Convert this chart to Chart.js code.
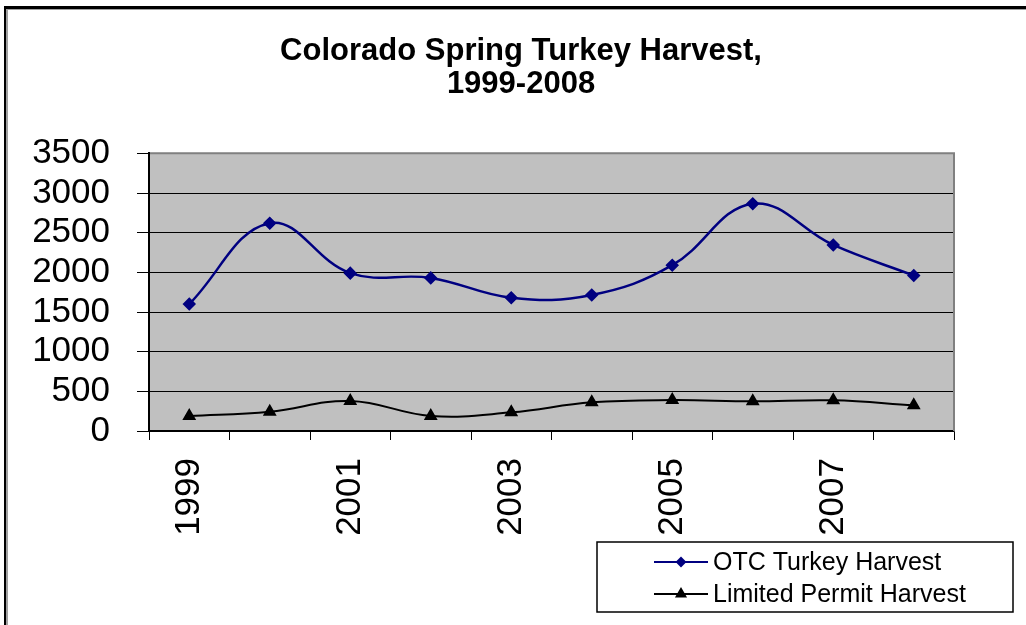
<!DOCTYPE html>
<html>
<head>
<meta charset="utf-8">
<script src="https://cdn.jsdelivr.net/npm/chart.js@4.4.1/dist/chart.umd.min.js"></script>
<style>
  html, body { margin: 0; padding: 0; background: #fff; }
  #wrap { position: relative; width: 1026px; height: 625px; overflow: hidden; }
  #c { position: absolute; left: 0; top: 0; }
  #frame { position: absolute; left: 4px; top: 6px; width: 1030px; height: 630px;
           border-top: 3px solid #000; border-left: 2px solid #000;
           box-shadow: inset 2px 1px 0 #a0a0a0; pointer-events: none; box-sizing: border-box; }
</style>
</head>
<body>
<div id="wrap">
  <canvas id="c" width="1026" height="625"></canvas>
  <div id="frame"></div>
</div>
<script>
const titleLines = ['Colorado Spring Turkey Harvest,', '1999-2008'];
const years = ['1999','2000','2001','2002','2003','2004','2005','2006','2007','2008'];
const otcHarvest = [1600, 2620, 1990, 1930, 1680, 1715, 2090, 2865, 2345, 1960];
const limitedHarvest = [190, 243, 378, 190, 235, 361, 390, 374, 387, 324];
const seriesNames = ['OTC Turkey Harvest', 'Limited Permit Harvest'];
const yTicks = [0, 500, 1000, 1500, 2000, 2500, 3000, 3500];

const FONT = "'Liberation Sans', Arial, sans-serif";

const plotBg = {
  id: 'plotBg',
  beforeDraw(chart) {
    const {ctx, chartArea: a} = chart;
    ctx.save();
    ctx.fillStyle = '#c0c0c0';
    ctx.fillRect(a.left, a.top, a.right - a.left, a.bottom - a.top);
    ctx.restore();
  },
  beforeDatasetsDraw(chart) {
    const {ctx, chartArea: a} = chart;
    ctx.save();
    ctx.strokeStyle = '#808080';
    ctx.lineWidth = 2;
    ctx.beginPath();
    ctx.moveTo(a.left + 1, a.top);
    ctx.lineTo(a.right, a.top);
    ctx.lineTo(a.right, a.bottom);
    ctx.stroke();
    ctx.restore();
  }
};

const boxLegend = {
  id: 'boxLegend',
  afterDraw(chart) {
    const ctx = chart.ctx;
    const bx = 597, by = 542, bw = 416, bh = 70;
    ctx.save();
    ctx.fillStyle = '#fff';
    ctx.fillRect(bx, by, bw, bh);
    ctx.strokeStyle = '#000';
    ctx.lineWidth = 1.5;
    ctx.strokeRect(bx, by, bw, bh);
    const rows = [562, 594];
    chart.data.datasets.forEach((ds, i) => {
      const y = rows[i];
      ctx.strokeStyle = ds.borderColor;
      ctx.lineWidth = 2;
      ctx.beginPath();
      ctx.moveTo(654, y);
      ctx.lineTo(708, y);
      ctx.stroke();
      ctx.fillStyle = ds.pointBackgroundColor;
      ctx.strokeStyle = ds.pointBorderColor;
      Chart.helpers.drawPoint(ctx, {pointStyle: ds.pointStyle, radius: ds.pointRadius - 1, rotation: 0, borderWidth: 1}, 681, y);
      ctx.fillStyle = '#000';
      ctx.font = '25px ' + FONT;
      ctx.textBaseline = 'middle';
      ctx.textAlign = 'left';
      ctx.fillText(ds.label, 713, y + 1);
    });
    ctx.restore();
  }
};

new Chart(document.getElementById('c'), {
  type: 'line',
  data: {
    labels: years,
    datasets: [
      {
        label: seriesNames[0],
        data: otcHarvest,
        borderColor: '#000080',
        backgroundColor: '#000080',
        pointBackgroundColor: '#000080',
        pointBorderColor: '#000080',
        borderWidth: 2.5,
        pointStyle: 'rectRot',
        pointRadius: 5,
        tension: 0.4
      },
      {
        label: seriesNames[1],
        data: limitedHarvest,
        borderColor: '#000000',
        backgroundColor: '#000000',
        pointBackgroundColor: '#000000',
        pointBorderColor: '#000000',
        borderWidth: 2,
        pointStyle: 'triangle',
        pointRadius: 6,
        tension: 0.4
      }
    ]
  },
  options: {
    responsive: false,
    animation: false,
    layout: { padding: { left: 88, right: 72, top: 0, bottom: 0 } },
    plugins: {
      legend: { display: false },
      tooltip: { enabled: false },
      title: {
        display: true,
        text: titleLines,
        color: '#000',
        font: { family: FONT, size: 31, weight: 'bold', lineHeight: 1.07 },
        padding: { top: 35, bottom: 52 }
      }
    },
    scales: {
      x: {
        offset: true,
        grid: { display: true, drawOnChartArea: false, drawTicks: true, tickLength: 9, offset: true, color: '#000', lineWidth: 1 },
        border: { display: true, color: '#000', width: 1.5 },
        ticks: {
          autoSkip: false,
          minRotation: 90,
          maxRotation: 90,
          padding: 18,
          color: '#000',
          font: { family: FONT, size: 35 },
          callback: function(v, i) { return i % 2 === 0 ? years[i] : ''; }
        },
        afterFit: function(s) { s.height = 194; }
      },
      y: {
        min: yTicks[0],
        max: yTicks[yTicks.length - 1],
        grid: { color: '#000', lineWidth: 1, tickLength: 12 },
        border: { display: true, color: '#000', width: 2 },
        afterBuildTicks: function(s) { s.ticks = yTicks.map(v => ({value: v})); },
        ticks: {
          autoSkip: false,
          padding: 27,
          color: '#000',
          font: { family: FONT, size: 35, lineHeight: 1 },
          callback: function(v) { return String(v); }
        },
        afterFit: function(s) {
          s.width = 61;
          s._computeLabelArea = function() { return null; };
        }
      }
    }
  },
  plugins: [plotBg, boxLegend]
});
</script>
</body>
</html>
